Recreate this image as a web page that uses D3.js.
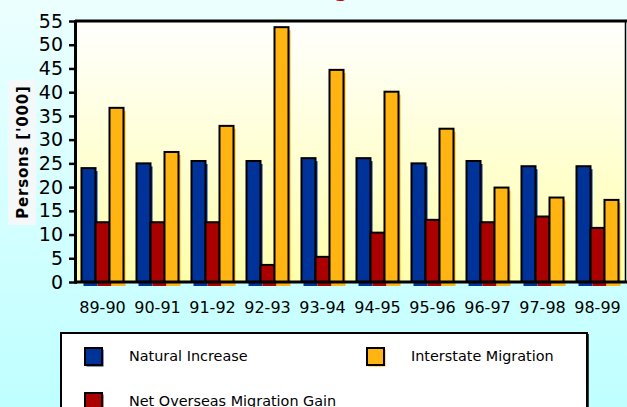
<!DOCTYPE html>
<html><head><meta charset="utf-8">
<script src="https://cdn.jsdelivr.net/npm/d3@7"></script>
<style>html,body{margin:0;padding:0;overflow:hidden;background:#c0ffff}</style>
</head><body><svg id="c" width="627" height="407"></svg>
<script>
const categories = ["89-90","90-91","91-92","92-93","93-94","94-95","95-96","96-97","97-98","98-99"];
const naturalIncrease = [24.0, 25.0, 25.5, 25.5, 26.1, 26.1, 25.0, 25.5, 24.4, 24.4];
const overseasGain    = [12.6, 12.6, 12.6, 3.6, 5.3, 10.4, 13.1, 12.6, 13.8, 11.4];
const interstate      = [36.7, 27.4, 32.9, 53.7, 44.7, 40.1, 32.3, 19.9, 17.8, 17.3];
const seriesNames = ["Natural Increase","Net Overseas Migration Gain","Interstate Migration"];
const seriesColors = ["#003399","#aa0000","#ffb411"];
const yTicks = [0,5,10,15,20,25,30,35,40,45,50,55];
const yTitle = "Persons ['000]";
const title = "Annual Change (WA)";

const series = [naturalIncrease, overseasGain, interstate];
const svg = d3.select("#c");
const W = 627, H = 407;
const L = 75, R = 625, T = 21, B = 282;

const defs = svg.append("defs");
const bg = defs.append("linearGradient").attr("id","bg").attr("x1",0).attr("y1",0).attr("x2",0).attr("y2",1);
bg.append("stop").attr("offset","0%").attr("stop-color","#ecffff");
bg.append("stop").attr("offset","100%").attr("stop-color","#bfffff");
const pg = defs.append("linearGradient").attr("id","pg").attr("x1",0).attr("y1",0).attr("x2",0).attr("y2",1);
pg.append("stop").attr("offset","0%").attr("stop-color","#ffffff");
pg.append("stop").attr("offset","100%").attr("stop-color","#ffffaa");

svg.append("rect").attr("width",W).attr("height",H).attr("fill","url(#bg)");

// title (mostly above the visible area, as in the reference)
svg.append("text").attr("x",192).attr("y",-3).attr("fill","#cc0000")
  .attr("font-family","DejaVu Sans").attr("font-weight","bold").attr("font-size",20).text(title);

const x = d3.scaleBand().domain(categories).range([L, R]).padding(0);
const xs = d3.scaleBand().domain(seriesNames).range([6.5, x.bandwidth()-6.5]).padding(0);
const y = d3.scaleLinear().domain([0,55]).range([B, T]);

// plot area
svg.append("rect").attr("x",L).attr("y",T).attr("width",R-L).attr("height",B-T).attr("fill","url(#pg)");

// bars
const g = svg.append("g");
categories.forEach((c, i) => {
  series.forEach((vals, j) => {
    const bx = x(c) + xs(seriesNames[j]);
    const by = y(vals[i]);
    const bw = xs.bandwidth();
    const bh = y(0) - y(vals[i]);
    g.append("rect").attr("x", bx+2).attr("y", by+3).attr("width", bw).attr("height", bh+1)
      .attr("fill", seriesColors[j]);
    g.append("rect").attr("x", bx).attr("y", by).attr("width", bw).attr("height", bh)
      .attr("fill", seriesColors[j]).attr("stroke","#000").attr("stroke-width",2);
  });
});

// frame
svg.append("line").attr("x1",L).attr("x2",W).attr("y1",T).attr("y2",T).attr("stroke","#000").attr("stroke-width",3);
svg.append("line").attr("x1",R+0.5).attr("x2",R+0.5).attr("y1",T).attr("y2",B).attr("stroke","#000").attr("stroke-width",1.5);
svg.append("line").attr("x1",L).attr("x2",W).attr("y1",B).attr("y2",B).attr("stroke","#000").attr("stroke-width",3);
svg.append("line").attr("x1",L+0.5).attr("x2",L+0.5).attr("y1",T-1).attr("y2",B+1.5).attr("stroke","#000").attr("stroke-width",3);

// y axis
const ya = svg.append("g").attr("transform",`translate(${L+2},0)`)
  .call(d3.axisLeft(y).tickValues(yTicks).tickSize(8).tickPadding(6));
ya.select(".domain").remove();
ya.selectAll(".tick line").attr("stroke","#000").attr("stroke-width",2.5);
ya.selectAll(".tick text").attr("font-family","DejaVu Sans").attr("font-size",19).attr("fill","#000");

// x labels
const xa = svg.append("g").attr("transform",`translate(0,${B})`)
  .call(d3.axisBottom(x).tickSize(0).tickPadding(0));
xa.select(".domain").remove();
xa.selectAll(".tick text").attr("font-family","DejaVu Sans").attr("font-size",16).attr("fill","#000")
  .attr("dy",null).attr("y",31);

// y title
svg.append("rect").attr("x",8).attr("y",80).attr("width",28).attr("height",145).attr("fill","#f5f8f8");
svg.append("text").attr("transform","translate(28,152) rotate(-90)").attr("text-anchor","middle")
  .attr("font-family","DejaVu Sans").attr("font-weight","bold").attr("font-size",15)
  .attr("letter-spacing",0.8).attr("fill","#000").text(yTitle);

// legend
const lg = svg.append("g");
lg.append("rect").attr("x",61).attr("y",333).attr("width",526).attr("height",120)
  .attr("fill","#fff").attr("stroke","#000").attr("stroke-width",2);
lg.append("line").attr("x1",588).attr("x2",588).attr("y1",334).attr("y2",H).attr("stroke","#000").attr("stroke-width",1.5);
const legendPos = [[85,348],[85,393],[367,348]];
const legendText = [[129,361],[129,406],[411,361]];
seriesNames.forEach((n, j) => {
  const [sx, sy] = legendPos[j];
  lg.append("rect").attr("x",sx+1.5).attr("y",sy+1.5).attr("width",17).attr("height",17).attr("fill",seriesColors[j]);
  lg.append("rect").attr("x",sx).attr("y",sy).attr("width",17).attr("height",17)
    .attr("fill",seriesColors[j]).attr("stroke","#000").attr("stroke-width",2);
  lg.append("text").attr("x",legendText[j][0]).attr("y",legendText[j][1])
    .attr("font-family","DejaVu Sans").attr("font-size",14.4).attr("fill","#000").text(n);
});
</script></body></html>
